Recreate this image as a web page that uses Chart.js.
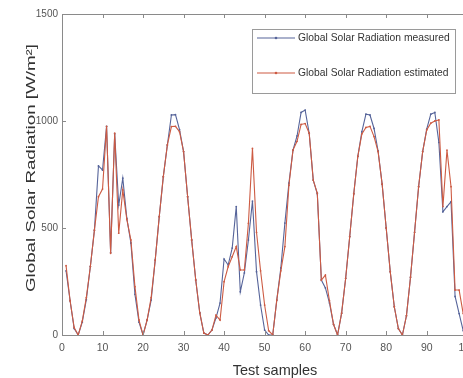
<!DOCTYPE html>
<html><head><meta charset="utf-8">
<script src="https://cdn.jsdelivr.net/npm/chart.js@4.4.1/dist/chart.umd.min.js"></script>
<style>
html,body{margin:0;padding:0;background:#fff;overflow:hidden;width:463px;height:378px}
#wrap{position:absolute;left:0;top:0;width:483px;height:378px}
</style>
</head><body><div id="wrap"><canvas id="c" width="483" height="378"></canvas></div>
<script>
const samples = [1,2,3,4,5,6,7,8,9,10,11,12,13,14,15,16,17,18,19,20,21,22,23,24,25,26,27,28,29,30,31,32,33,34,35,36,37,38,39,40,41,42,43,44,45,46,47,48,49,50,51,52,53,54,55,56,57,58,59,60,61,62,63,64,65,66,67,68,69,70,71,72,73,74,75,76,77,78,79,80,81,82,83,84,85,86,87,88,89,90,91,92,93,94,95,96,97,98,99];
const measured = [300,160,30,0,60,165,320,490,790,771,975,385,940,607,733,545,430,190,60,0,70,163,350,553,740,888,1028,1030,960,857,646,444,257,103,9,0,23,80,149,355,327,406,600,202,290,444,626,296,140,23,0,0,163,313,523,710,864,930,1040,1051,943,724,660,257,220,150,50,0,102,265,460,660,835,950,1032,1028,965,860,705,500,296,132,30,0,90,270,480,693,857,962,1032,1040,900,576,600,623,180,100,20];
const estimated = [324,160,35,0,65,175,320,490,646,682,975,382,943,476,678,540,444,226,70,0,70,175,350,553,740,888,974,975,950,857,646,444,257,103,9,0,23,93,70,249,319,366,413,304,304,522,872,480,300,140,20,0,163,300,413,700,864,905,984,988,943,724,663,257,280,160,50,0,102,265,460,660,835,940,970,975,927,857,705,500,296,132,30,0,90,270,480,693,857,958,990,1000,1005,600,864,693,210,210,100];
const xTicks = [0,10,20,30,40,50,60,70,80,90,100];
const yTicks = [0,500,1000,1500];
const seriesNames = ['Global Solar Radiation measured','Global Solar Radiation estimated'];
const xTitle = 'Test samples';
const yTitle = 'Global Solar Radiation [W/m\u00B2]';

const BLUE = '#56649a', RED = '#cd5b43', AXIS = '#8a8a8a';
const FONT = '"Liberation Sans", Arial, sans-serif';

const deco = {
  id: 'deco',
  afterDraw(chart) {
    const {ctx, chartArea: a, scales: {x, y}} = chart;
    ctx.save();
    ctx.strokeStyle = AXIS; ctx.lineWidth = 1;
    ctx.beginPath();
    ctx.moveTo(a.left, a.top + 0.5); ctx.lineTo(a.right, a.top + 0.5);
    ctx.moveTo(a.right - 0.5, a.top); ctx.lineTo(a.right - 0.5, a.bottom);
    xTicks.forEach(v => {
      const px = Math.round(x.getPixelForValue(v)) + 0.5;
      ctx.moveTo(px, a.bottom); ctx.lineTo(px, a.bottom - 4);
      ctx.moveTo(px, a.top); ctx.lineTo(px, a.top + 4);
    });
    yTicks.forEach(v => {
      const py = Math.round(y.getPixelForValue(v)) + 0.5;
      ctx.moveTo(a.left, py); ctx.lineTo(a.left + 4, py);
      ctx.moveTo(a.right, py); ctx.lineTo(a.right - 4, py);
    });
    ctx.stroke();

    // legend box
    const lx = 252.5, ly = 29.5, lw = 203, lh = 64;
    ctx.fillStyle = '#fff';
    ctx.fillRect(lx, ly, lw, lh);
    ctx.strokeStyle = '#9a9a9a';
    ctx.strokeRect(lx, ly, lw, lh);
    const rows = [[seriesNames[0], BLUE, 38], [seriesNames[1], RED, 73]];
    ctx.font = '10.3px ' + FONT;
    ctx.textBaseline = 'middle'; ctx.textAlign = 'left';
    rows.forEach(([t, c, yy]) => {
      ctx.strokeStyle = c; ctx.lineWidth = 1.1;
      ctx.beginPath(); ctx.moveTo(257, yy); ctx.lineTo(295, yy); ctx.stroke();
      ctx.fillStyle = c; ctx.beginPath(); ctx.arc(276, yy, 1.3, 0, Math.PI * 2); ctx.fill();
      ctx.fillStyle = '#333';
      ctx.fillText(t, 298, yy);
    });

    // axis titles
    ctx.fillStyle = '#333';
    ctx.font = '14.5px ' + FONT;
    ctx.textAlign = 'center'; ctx.textBaseline = 'alphabetic';
    ctx.fillText(xTitle, 275, 375);

    ctx.font = '13.5px ' + FONT;
    const w = ctx.measureText(yTitle).width;
    ctx.save();
    ctx.translate(31, 168);
    ctx.rotate(-Math.PI / 2);
    ctx.scale(248 / w, 1);
    ctx.textBaseline = 'middle';
    ctx.fillText(yTitle, 0, 0);
    ctx.restore();
    ctx.restore();
  }
};

new Chart(document.getElementById('c'), {
  type: 'line',
  data: {
    labels: samples,
    datasets: [
      {label: seriesNames[1], data: samples.map((s, i) => ({x: s, y: estimated[i]})),
       borderColor: RED, backgroundColor: RED, borderWidth: 1.1, pointRadius: 0.9, pointHoverRadius: 0.9,
       pointBorderWidth: 0, tension: 0, order: 0},
      {label: seriesNames[0], data: samples.map((s, i) => ({x: s, y: measured[i]})),
       borderColor: BLUE, backgroundColor: BLUE, borderWidth: 1.1, pointRadius: 0.9, pointHoverRadius: 0.9,
       pointBorderWidth: 0, tension: 0, order: 1}
    ]
  },
  options: {
    responsive: false,
    animation: false,
    devicePixelRatio: 1,
    layout: {padding: {top: 14, left: 0, right: 0, bottom: 0}},
    plugins: {legend: {display: false}, tooltip: {enabled: false}},
    scales: {
      x: {
        type: 'linear', min: 0, max: 100,
        afterFit: s => { s.height = 43; },
        afterBuildTicks: s => { s.ticks = xTicks.map(v => ({value: v})); },
        ticks: {color: '#555', font: {size: 10.5, family: FONT}, padding: 7, maxRotation: 0, autoSkip: false,
                callback: v => String(v)},
        grid: {display: false, drawTicks: false},
        border: {display: true, color: AXIS, width: 1}
      },
      y: {
        min: 0, max: 1500,
        afterFit: s => { s.width = 62; },
        afterBuildTicks: s => { s.ticks = yTicks.map(v => ({value: v})); },
        ticks: {color: '#555', font: {size: 10, family: FONT}, padding: 4, callback: v => String(v)},
        grid: {display: false, drawTicks: false},
        border: {display: true, color: AXIS, width: 1}
      }
    }
  },
  plugins: [deco]
});
</script>
</body></html>
